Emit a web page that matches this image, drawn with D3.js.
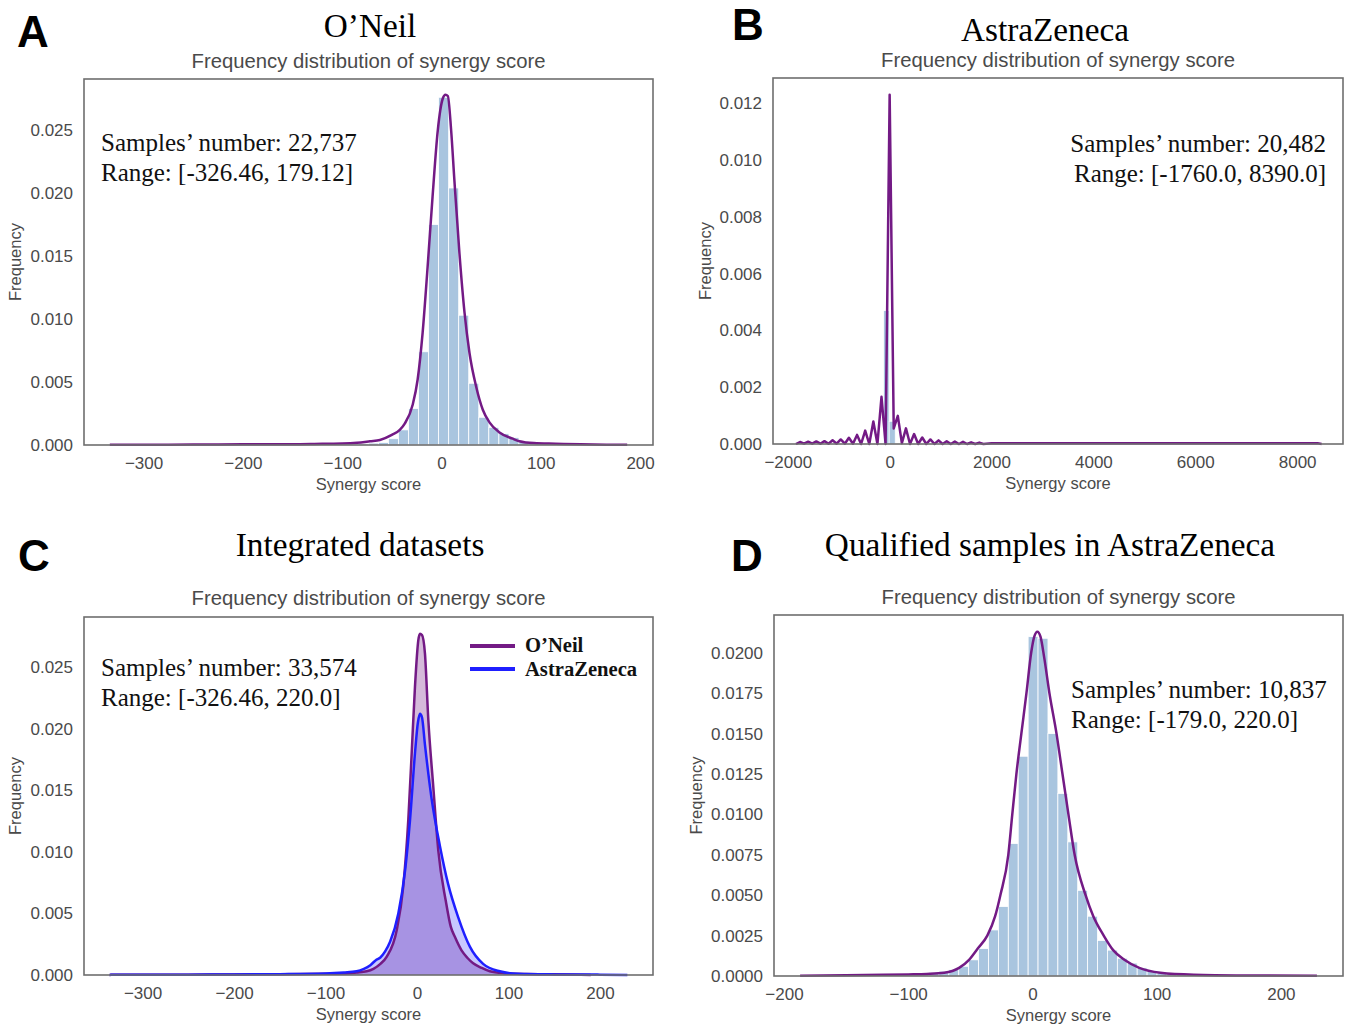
<!DOCTYPE html>
<html>
<head>
<meta charset="utf-8">
<script src="https://cdn.jsdelivr.net/npm/d3@7"></script>
<style>
  body { margin: 0; background: #fff; }
  svg { display: block; }
</style>
</head>
<body>
<div id="chart"></div>
<script>
// ---- data ----
const panelLetters = ["A", "B", "C", "D"];
const panelTitles = ["O\u2019Neil", "AstraZeneca", "Integrated datasets", "Qualified samples in AstraZeneca"];
const subTitle = "Frequency distribution of synergy score";
const notesA = ["Samples\u2019 number: 22,737", "Range: [-326.46, 179.12]"];
const notesB = ["Samples\u2019 number: 20,482", "Range: [-1760.0, 8390.0]"];
const notesC = ["Samples\u2019 number: 33,574", "Range: [-326.46, 220.0]"];
const notesD = ["Samples\u2019 number: 10,837", "Range: [-179.0, 220.0]"];
const legendNames = ["O\u2019Neil", "AstraZeneca"];

const xTicksA = [-300, -200, -100, 0, 100, 200];
const yTicksA = [0, 0.005, 0.010, 0.015, 0.020, 0.025];
const xTicksB = [-2000, 0, 2000, 4000, 6000, 8000];
const yTicksB = [0, 0.002, 0.004, 0.006, 0.008, 0.010, 0.012];
const xTicksC = [-300, -200, -100, 0, 100, 200];
const yTicksC = [0, 0.005, 0.010, 0.015, 0.020, 0.025];
const xTicksD = [-200, -100, 0, 100, 200];
const yTicksD = [0, 0.0025, 0.005, 0.0075, 0.010, 0.0125, 0.015, 0.0175, 0.020];

// histogram A: 50 bins over the data range
const rangeA = [-326.46, 179.12];
const binsA = [0.00002, 0, 0, 0, 0, 0, 0, 0, 0, 0.00001,
  0, 0, 0.00001, 0, 0.00002, 0.00002, 0.00002, 0.00003, 0.00003, 0.00004,
  0.00004, 0.00005, 0.00006, 0.00008, 0.0001, 0.00015, 0.0002, 0.0005, 0.0012, 0.0029,
  0.0074, 0.0175, 0.0276, 0.0204, 0.0103, 0.0049, 0.0022, 0.0014, 0.0009, 0.0006,
  0.0003, 0.0002, 0.0001, 0.00008, 0.00005, 0.00004, 0.00003, 0.00002, 0.00002, 0.00002];

// histogram B: only the bins around zero are visible
const edgesB = [-120, -10, 110];
const binsB = [0.0047, 0.0008];

// histogram D: 50 bins over the data range
const rangeD = [-179.0, 220.0];
const binsD = [0.00002, 0.00002, 0.00003, 0.00003, 0.00004, 0.00005, 0.00005, 0.00006, 0.00008, 0.0001,
  0.0001, 0.0001, 0.0002, 0.0003, 0.0004, 0.0006, 0.001, 0.0017, 0.00285, 0.0043,
  0.0082, 0.0136, 0.021, 0.0209, 0.015, 0.0113, 0.0083, 0.0053, 0.0037, 0.0022,
  0.0016, 0.0011, 0.0008, 0.0005, 0.0003, 0.0002, 0.00015, 0.0001, 0.00008, 0.00006,
  0.00005, 0.00004, 0.00003, 0.00003, 0.00002, 0.00002, 0.00002, 0.00002, 0.00002, 0.00002];

// KDE curves [score, density]
const kdeA = [[-334, 0.00001], [-300, 0.00002], [-250, 0.00003], [-200, 0.00005], [-150, 0.00006],
  [-120, 0.0001], [-100, 0.00012], [-85, 0.00018], [-72, 0.0003], [-62, 0.0004], [-50, 0.0008],
  [-42, 0.0012], [-37, 0.0017], [-29, 0.0032], [-24, 0.0052], [-19, 0.0089], [-14, 0.0141],
  [-9, 0.0197], [-3.7, 0.025], [1.3, 0.0275], [4, 0.0278], [6.4, 0.0277], [9.7, 0.025],
  [13, 0.021], [18.1, 0.0152], [23.2, 0.0105], [28.2, 0.0073], [35, 0.0046], [41.6, 0.0028],
  [48.3, 0.0018], [58.4, 0.001], [71.8, 0.0005], [78.5, 0.0003], [93, 0.00015], [115, 0.0001],
  [140, 0.00005], [187, 0.00002]];

const kdeB = [[-1840, 0], [-1760, 0.00007], [-1680, 0.00001], [-1600, 0.00008], [-1520, 0.00001],
  [-1440, 0.00009], [-1360, 0.00001], [-1280, 0.0001], [-1200, 0.00001], [-1120, 0.00013],
  [-1040, 0.00001], [-960, 0.00016], [-880, 0.00001], [-800, 0.00022], [-720, 0.00001],
  [-640, 0.00032], [-560, 0], [-480, 0.00047], [-400, 0], [-320, 0.00079], [-240, 0],
  [-160, 0.00166], [-80, 0], [0, 0.0123], [80, 0.00055], [160, 0.00099], [240, 0.00003],
  [320, 0.00055], [400, 0], [480, 0.00035], [560, 0], [640, 0.00023], [720, 0], [800, 0.00016],
  [880, 0], [960, 0.00013], [1040, 0], [1120, 0.0001], [1200, 0], [1280, 0.00009], [1360, 0],
  [1440, 0.00008], [1520, 0], [1600, 0.00006], [1680, 0], [1760, 0.00005], [1840, 0],
  [2000, 0.00003], [3000, 0.00003], [4000, 0.00003], [5000, 0.00003], [6000, 0.00003],
  [7000, 0.00003], [8000, 0.00003], [8400, 0.00003], [8480, 0]];

const kdeCOneil = [[-336, 0.00001], [-250, 0.00003], [-200, 0.00005], [-150, 0.00006], [-100, 0.0001],
  [-80, 0.00012], [-66, 0.0002], [-55, 0.0003], [-47.6, 0.0005], [-40, 0.0009], [-33, 0.0015],
  [-22, 0.0037], [-15, 0.0072], [-9.5, 0.0126], [-5.8, 0.018], [-2.2, 0.0234], [1.5, 0.0272],
  [3.3, 0.0277], [5.5, 0.0276], [8.7, 0.0261], [12.4, 0.0207], [17.8, 0.0153], [23.3, 0.0101],
  [31.5, 0.006], [37, 0.0039], [41.4, 0.0031], [48.7, 0.002], [55, 0.0014], [61.4, 0.00095],
  [70, 0.0006], [79.6, 0.0003], [95, 0.00015], [120, 0.00008], [179, 0.00003], [190, 0.00001]];

const kdeCAstra = [[-336, 0.00001], [-250, 0.00003], [-200, 0.00005], [-150, 0.00007], [-100, 0.00012],
  [-80, 0.0002], [-66, 0.0003], [-58, 0.0005], [-51, 0.0008], [-45, 0.0012], [-40.3, 0.0014],
  [-35, 0.0019], [-29.4, 0.0027], [-20.4, 0.005], [-13, 0.0085], [-7.6, 0.0126], [-2.2, 0.018],
  [1, 0.0205], [3.3, 0.0212], [5.5, 0.0209], [8.7, 0.0187], [16, 0.0143], [25, 0.0105],
  [34, 0.0074], [45, 0.0047], [57.8, 0.0023], [72.3, 0.0009], [90.5, 0.0003], [110, 0.0001],
  [150, 0.00005], [200, 0.00003], [230, 0.00001]];

const kdeD = [[-187, 0.00002], [-150, 0.00004], [-120, 0.00007], [-100, 0.0001], [-85, 0.00013],
  [-71, 0.0002], [-59, 0.0005], [-51, 0.001], [-44, 0.0017], [-36.3, 0.0025], [-30, 0.0037],
  [-25.8, 0.005], [-19.4, 0.0075], [-16.2, 0.01], [-12.9, 0.0125], [-8.9, 0.015], [-4.8, 0.0175],
  [-1, 0.02], [1.5, 0.021], [4, 0.0213], [6.5, 0.021], [9.5, 0.0197], [13.7, 0.0175],
  [19.4, 0.015], [24.2, 0.0125], [29, 0.01], [34, 0.0075], [42.8, 0.005], [49, 0.0037],
  [57.4, 0.0025], [65, 0.0016], [74, 0.001], [86, 0.0005], [103, 0.0002], [130, 0.00008],
  [180, 0.00003], [229, 0.00001]];

// ---- styles ----
const barColor = "#a9c5df";
const purple = "#731a85";
const blue = "#1f1fff";
const gray = "#4a4a4a";
const sans = "'Liberation Sans', Arial, sans-serif";
const serif = "'Liberation Serif', 'Times New Roman', serif";

const W = 1347, H = 1030;
const svg = d3.select("#chart").append("svg")
    .attr("width", W)
    .attr("height", H);

function equalBins(range, heights) {
    const step = (range[1] - range[0]) / heights.length;
    return heights.map((h, i) => ({ x0: range[0] + i * step, x1: range[0] + (i + 1) * step, h: h }));
}

function drawPanel(p) {
    const g = svg.append("g");
    const f = p.frame;
    const x = d3.scaleLinear().domain(p.xDomain).range([f.x0, f.x1]);
    const y = d3.scaleLinear().domain(p.yDomain).range([f.y1, f.y0]);

    // panel letter, title and subtitle
    g.append("text").attr("x", p.letterPos[0]).attr("y", p.letterPos[1])
        .text(p.letter)
        .style("font", `bold 44px ${sans}`).attr("fill", "#000");
    g.append("text").attr("x", p.titleX).attr("y", p.titleY)
        .attr("text-anchor", "middle")
        .text(p.title)
        .style("font", `33.3px ${serif}`).attr("fill", "#000");
    g.append("text").attr("x", (f.x0 + f.x1) / 2).attr("y", p.subY)
        .attr("text-anchor", "middle")
        .text(subTitle)
        .style("font", `20.3px ${sans}`).attr("fill", gray);

    // histogram bars
    if (p.bins) {
        g.append("g").selectAll("rect")
            .data(p.bins.filter(d => d.h > 0))
            .join("rect")
            .attr("x", d => x(d.x0))
            .attr("width", d => Math.max(0, x(d.x1) - x(d.x0)))
            .attr("y", d => y(d.h))
            .attr("height", d => y(0) - y(d.h))
            .attr("fill", barColor)
            .attr("stroke", "#fff")
            .attr("stroke-width", 0.8);
    }

    // kde curves (shaded first, lines on top)
    p.curves.forEach(c => {
        if (c.fill) {
            const area = d3.area()
                .x(d => x(d[0])).y0(y(0)).y1(d => y(d[1]))
                .curve(c.curve);
            g.append("path").datum(c.data)
                .attr("d", area)
                .attr("fill", c.color)
                .attr("fill-opacity", c.fill);
        }
    });
    p.curves.forEach(c => {
        const line = d3.line()
            .x(d => x(d[0])).y(d => y(d[1]))
            .curve(c.curve);
        g.append("path").datum(c.data)
            .attr("d", line)
            .attr("fill", "none")
            .attr("stroke", c.color)
            .attr("stroke-width", 2.5)
            .attr("stroke-linejoin", "round");
    });

    // frame
    g.append("rect")
        .attr("x", f.x0).attr("y", f.y0)
        .attr("width", f.x1 - f.x0).attr("height", f.y1 - f.y0)
        .attr("fill", "none")
        .attr("stroke", "#6e6e6e")
        .attr("stroke-width", 1.6);

    // axes
    const xAxis = g.append("g")
        .attr("transform", `translate(0,${f.y1})`)
        .call(d3.axisBottom(x).tickValues(p.xTicks).tickSize(0).tickPadding(12).tickFormat(d3.format("d")));
    const yAxis = g.append("g")
        .attr("transform", `translate(${f.x0},0)`)
        .call(d3.axisLeft(y).tickValues(p.yTicks).tickSize(0).tickPadding(11).tickFormat(d3.format(p.yFmt)));
    [xAxis, yAxis].forEach(a => {
        a.select(".domain").remove();
        a.selectAll("text").style("font", `17px ${sans}`).attr("fill", gray);
    });

    g.append("text")
        .attr("x", (f.x0 + f.x1) / 2).attr("y", f.y1 + 45)
        .attr("text-anchor", "middle")
        .text("Synergy score")
        .style("font", `16.5px ${sans}`).attr("fill", gray);
    g.append("text")
        .attr("transform", `translate(${p.yLabelX},${(f.y0 + f.y1) / 2}) rotate(-90)`)
        .attr("text-anchor", "middle")
        .text("Frequency")
        .style("font", `16.5px ${sans}`).attr("fill", gray);

    // sample count / range note
    g.append("g").selectAll("text")
        .data(p.notes)
        .join("text")
        .attr("x", p.noteX)
        .attr("y", (d, i) => p.noteY + i * 30)
        .attr("text-anchor", p.noteAnchor)
        .text(d => d)
        .style("font", `25px ${serif}`).attr("fill", "#111");

    if (p.legend) {
        const lg = g.append("g");
        p.legend.forEach((l, i) => {
            lg.append("line")
                .attr("x1", 470).attr("x2", 515)
                .attr("y1", 646 + i * 23).attr("y2", 646 + i * 23)
                .attr("stroke", l.color).attr("stroke-width", 4);
            lg.append("text")
                .attr("x", 525).attr("y", 652 + i * 24)
                .text(l.name)
                .style("font", `bold 20.6px ${serif}`).attr("fill", "#111");
        });
    }
}

drawPanel({
    letter: panelLetters[0], letterPos: [17, 47], title: panelTitles[0], titleX: 370, titleY: 37, subY: 68,
    frame: { x0: 84, y0: 79, x1: 653, y1: 445 },
    xDomain: [-360, 213], yDomain: [0, 0.02905],
    xTicks: xTicksA, yTicks: yTicksA, yFmt: ".3f", yLabelX: 21,
    bins: equalBins(rangeA, binsA),
    curves: [{ data: kdeA, color: purple, curve: d3.curveMonotoneX }],
    notes: notesA, noteX: 101, noteY: 151, noteAnchor: "start"
});

drawPanel({
    letter: panelLetters[1], letterPos: [732, 40], title: panelTitles[1], titleX: 1045, titleY: 41, subY: 67,
    frame: { x0: 773, y0: 78, x1: 1343, y1: 444 },
    xDomain: [-2290, 8900], yDomain: [0, 0.01289],
    xTicks: xTicksB, yTicks: yTicksB, yFmt: ".3f", yLabelX: 711,
    bins: binsB.map((h, i) => ({ x0: edgesB[i], x1: edgesB[i + 1], h: h })),
    curves: [{ data: kdeB, color: purple, curve: d3.curveLinear }],
    notes: notesB, noteX: 1326, noteY: 152, noteAnchor: "end"
});

drawPanel({
    letter: panelLetters[2], letterPos: [18, 571], title: panelTitles[2], titleX: 360, titleY: 556, subY: 605,
    frame: { x0: 84, y0: 617, x1: 653, y1: 975 },
    xDomain: [-364, 258], yDomain: [0, 0.02906],
    xTicks: xTicksC, yTicks: yTicksC, yFmt: ".3f", yLabelX: 21,
    curves: [
        { data: kdeCOneil, color: purple, curve: d3.curveMonotoneX, fill: 0.3 },
        { data: kdeCAstra, color: blue, curve: d3.curveMonotoneX, fill: 0.25 }
    ],
    legend: [{ name: legendNames[0], color: purple }, { name: legendNames[1], color: blue }],
    notes: notesC, noteX: 101, noteY: 676, noteAnchor: "start"
});

drawPanel({
    letter: panelLetters[3], letterPos: [731, 571], title: panelTitles[3], titleX: 1050, titleY: 556, subY: 604,
    frame: { x0: 774, y0: 615, x1: 1343, y1: 976 },
    xDomain: [-208, 250], yDomain: [0, 0.02234],
    xTicks: xTicksD, yTicks: yTicksD, yFmt: ".4f", yLabelX: 702,
    bins: equalBins(rangeD, binsD),
    curves: [{ data: kdeD, color: purple, curve: d3.curveMonotoneX }],
    notes: notesD, noteX: 1071, noteY: 698, noteAnchor: "start"
});
</script>
</body>
</html>
